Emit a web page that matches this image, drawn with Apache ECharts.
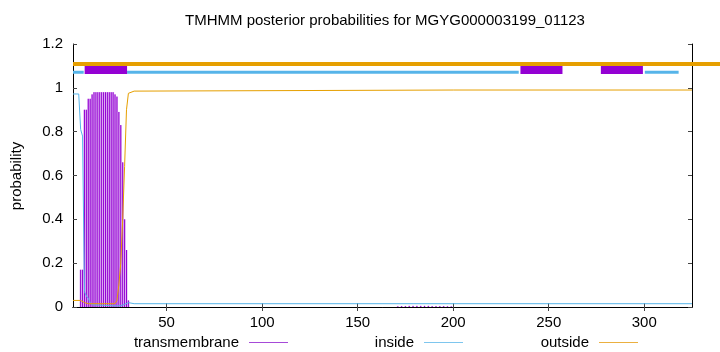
<!DOCTYPE html>
<html>
<head>
<meta charset="utf-8">
<script src="https://cdn.jsdelivr.net/npm/echarts@6/dist/echarts.min.js"></script>
<style>html,body{margin:0;padding:0;background:#fff}#c{width:720px;height:352px}</style>
</head>
<body>
<div id="c"></div>
<script>
// ---- data ----
const titleText = 'TMHMM posterior probabilities for MGYG000003199_01123';
const xTicks = [50, 100, 150, 200, 250, 300];
const yTicks = [0, 0.2, 0.4, 0.6, 0.8, 1, 1.2];

// transmembrane posterior (impulses), residue -> probability
const tmPos  = [5,6,7,8,9,10,11,12,13,14,15,16,17,18,19,20,21,22,23,24,25,26,27,28,29,30,
                171,173,175,177,179,181,183,185,187,189,191,193,195,197,199];
const tmProb = [0.17,0.17,0.90,0.90,0.95,0.95,0.97,0.98,0.98,0.98,0.98,0.98,0.98,0.98,0.98,0.98,0.98,0.98,0.97,0.96,0.89,0.83,0.66,0.40,0.26,0.03,
                0.003,0.004,0.004,0.005,0.005,0.005,0.005,0.005,0.005,0.004,0.004,0.004,0.004,0.003,0.003];

// inside posterior (line)
const insidePos  = [1,4,5,6,7,8,9,10,11,12,24,26,28,29,30,31,33,325];
const insideProb = [0.972,0.972,0.81,0.78,0.07,0.05,0.04,0.02,0.01,0.005,0.005,0.006,0.012,0.02,0.02,0.017,0.015,0.015];

// outside posterior (line)
const outsidePos  = [1,5,7,9,12,23,24,25,26,27,28,29,30,31,33,200,325];
const outsideProb = [0.03,0.03,0.02,0.015,0.015,0.015,0.03,0.10,0.20,0.40,0.64,0.90,0.975,0.98,0.985,0.99,0.99];

// predicted topology segments (start, end residue)
const insideSegs  = [[1, 6.6], [29.3, 234.3], [300.3, 318]];
const tmSegs      = [[7.1, 29.3], [235.2, 257.2], [277.3, 299.3]];
const outsideSegs = [[1, 345]];

// ---- chart ----
const C_TM = '#9400d3', C_TM_LIGHT = '#d9a8f0', C_IN = '#56b4e9', C_OUT = '#e69f00';
const FONT = 'Liberation Sans, Arial, sans-serif';
const FS = 15;
const Y_IN = 1.071, Y_OUT = 1.109, Y_BOX_LO = 1.063, Y_BOX_HI = 1.103;

const zip = (a, b) => a.map((v, i) => [v, b[i]]);

function segRenderer(yLevel, color, width) {
  return function (params, api) {
    const p1 = api.coord([api.value(0), yLevel]);
    const p2 = api.coord([api.value(1), yLevel]);
    return { type: 'line', shape: { x1: p1[0], y1: p1[1], x2: p2[0], y2: p2[1] },
             style: { stroke: color, lineWidth: width, lineCap: 'butt' } };
  };
}

const chart = echarts.init(document.getElementById('c'), null, { renderer: 'canvas' });
const axisLine = { show: true, lineStyle: { color: '#000', width: 1 } };
const tick = { show: true, inside: true, length: 4, lineStyle: { color: '#444' } };

chart.setOption({
  animation: false,
  backgroundColor: '#fff',
  grid: { left: 73, right: 28, top: 44, bottom: 45, containLabel: false },
  xAxis: [
    { type: 'value', min: 1, max: 325, position: 'bottom', axisLine,
      axisTick: Object.assign({ customValues: xTicks }, tick),
      axisLabel: { customValues: xTicks, color: '#000', fontSize: FS, fontFamily: FONT, margin: 8 },
      splitLine: { show: false } },
    { type: 'value', min: 1, max: 325, position: 'top', axisLine,
      axisTick: Object.assign({ customValues: xTicks }, tick),
      axisLabel: { show: false }, splitLine: { show: false } }
  ],
  yAxis: [
    { type: 'value', min: 0, max: 1.2, interval: 0.2, position: 'left', axisLine, axisTick: tick,
      axisLabel: { color: '#000', fontSize: FS, fontFamily: FONT, margin: 10,
                   formatter: v => String(Math.round(v * 10) / 10) },
      splitLine: { show: false } },
    { type: 'value', min: 0, max: 1.2, interval: 0.2, position: 'right', axisLine, axisTick: tick,
      axisLabel: { show: false }, splitLine: { show: false } }
  ],
  legend: [
    { data: [{ name: 'transmembrane', icon: 'rect', itemStyle: { color: '#a64ad8' } }] },
    { data: [{ name: 'inside', icon: 'rect', itemStyle: { color: '#7ec6ee' } }] },
    { data: [{ name: 'outside', icon: 'rect', itemStyle: { color: '#ebb040' } }] }
  ].map((l, i) => Object.assign(l, {
      right: [432, 257, 82][i], top: 335, align: 'right', orient: 'horizontal',
      itemWidth: 39, itemHeight: 1, selectedMode: false, padding: 0,
      textStyle: { color: '#000', fontSize: FS, fontFamily: FONT, padding: [0, 5, 0, 0] }
  })),
  graphic: [
    { type: 'text', x: 385, y: 21, style: { text: titleText, fill: '#000', font: FS + 'px ' + FONT,
      textAlign: 'center', textVerticalAlign: 'middle' } },
    { type: 'text', x: 17, y: 176, rotation: Math.PI / 2, style: { text: 'probability', fill: '#000',
      font: FS + 'px ' + FONT, textAlign: 'center', textVerticalAlign: 'middle' } }
  ],
  series: [
    { name: 'transmembrane', type: 'custom', data: zip(tmPos, tmProb), encode: { x: 0, y: 1 },
      renderItem: function (params, api) {
        const x = api.value(0), y = api.value(1);
        const p1 = api.coord([x, 0]), p2 = api.coord([x, y]);
        const shape = { x1: p1[0], y1: p1[1], x2: p2[0], y2: p2[1] };
        return { type: 'group', children: [
          { type: 'line', shape, style: { stroke: C_TM_LIGHT, lineWidth: 2, lineCap: 'butt' } },
          { type: 'line', shape, style: { stroke: C_TM, lineWidth: 1, lineCap: 'butt' } }
        ] };
      } },
    { name: 'inside', type: 'line', data: zip(insidePos, insideProb), symbol: 'none',
      lineStyle: { color: C_IN, width: 1 }, itemStyle: { color: C_IN } },
    { name: 'outside', type: 'line', data: zip(outsidePos, outsideProb), symbol: 'none',
      lineStyle: { color: C_OUT, width: 1 }, itemStyle: { color: C_OUT } },
    { name: 'insideTopo', type: 'custom', data: insideSegs, encode: { x: [0, 1] },
      renderItem: segRenderer(Y_IN, C_IN, 3) },
    { name: 'tmTopo', type: 'custom', data: tmSegs, encode: { x: [0, 1] },
      renderItem: function (params, api) {
        const p1 = api.coord([api.value(0), Y_BOX_HI]);
        const p2 = api.coord([api.value(1), Y_BOX_LO]);
        return { type: 'rect', shape: { x: p1[0], y: p1[1], width: p2[0] - p1[0], height: p2[1] - p1[1] },
                 style: { fill: C_TM } };
      } },
    { name: 'outsideTopo', type: 'custom', data: outsideSegs, encode: { x: [0, 1] }, clip: false,
      renderItem: segRenderer(Y_OUT, C_OUT, 4) }
  ]
});
</script>
</body>
</html>
